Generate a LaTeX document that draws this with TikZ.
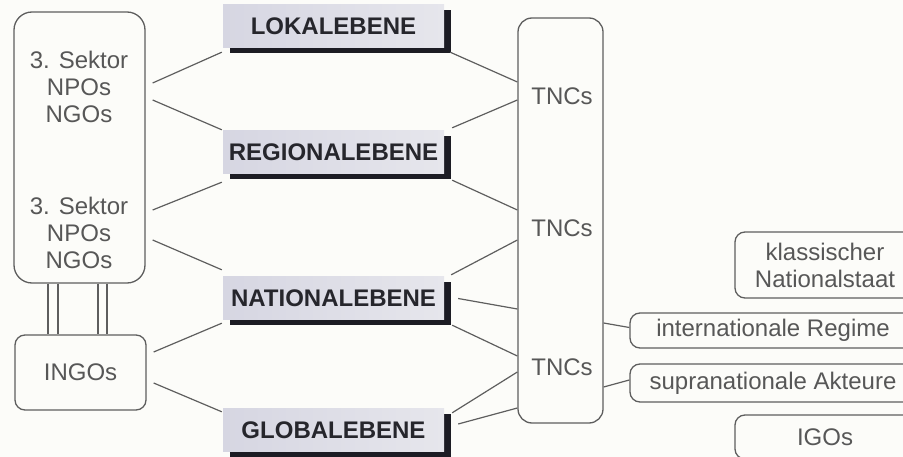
\documentclass[tikz,border=0pt]{standalone}
\usepackage{fontspec}
\setmainfont{Liberation Sans}
\usetikzlibrary{calc,shadows}
\definecolor{bgc}{HTML}{FCFCF9}
\definecolor{txtc}{HTML}{575757}
\definecolor{linec}{HTML}{5E5E5E}
\definecolor{levelleft}{HTML}{D6D6E2}
\definecolor{levelright}{HTML}{E6E6EC}
\definecolor{shadowc}{HTML}{1C1C24}
\definecolor{leveltxt}{HTML}{26262C}
\begin{document}
\begin{tikzpicture}[x=1pt,y=-1pt,
  box/.style={draw=linec, line width=1.3pt, rounded corners=#1, inner sep=0pt},
  box/.default=10pt,
  lbl/.style={text=txtc, font=\fontsize{24}{27}\selectfont, align=center, inner sep=0pt},
  level/.style={left color=levelleft, right color=levelright,
     minimum width=221pt, minimum height=43pt, inner sep=0pt,
     font=\bfseries\fontsize{24}{27}\selectfont, text=leveltxt,
     drop shadow={fill=shadowc, opacity=1, shadow xshift=7pt, shadow yshift=-5pt}},
  link/.style={draw=linec, line width=1.2pt},
]
\useasboundingbox (0,0) rectangle (903,457);
\fill[bgc] (0,0) rectangle (903,457);
\clip (0,0) rectangle (903,457);

% left column: third sector and INGOs
\node[box=18pt, minimum width=131pt, minimum height=271pt] (sektor) at (79.5,147.5) {};
\node[lbl] (sek1) at (79,87) {3. Sektor\\NPOs\\NGOs};
\node[lbl] (sek2) at (79,233) {3. Sektor\\NPOs\\NGOs};
\node[box, minimum width=131pt, minimum height=75pt, lbl] (ingos) at (80.5,372.5) {INGOs};
\foreach \dx in {-31.5,-21.5,18.5,27.5}
  \draw[link] ($(sektor.south)+(\dx,0)$) coordinate (p) -- (p |- ingos.north);

% levels
\node[level] (lok)  at (333.5,26.5)  {LOKALEBENE};
\node[level] (reg)  at (333.5,152.5) {REGIONALEBENE};
\node[level] (nat)  at (333.5,298.5) {NATIONALEBENE};
\node[level] (glob) at (333.5,430)   {GLOBALEBENE};

% transnational corporations
\node[box=14pt, minimum width=85pt, minimum height=405pt] (tnc) at (560.5,220.5) {};
\node[lbl] (t1) at (562,96)  {TNCs};
\node[lbl] (t2) at (562,228) {TNCs};
\node[lbl] (t3) at (562,367) {TNCs};

% state-related actors
\node[box, lbl, minimum width=180pt, minimum height=66pt] (klass) at (825,265) {klassischer\\Nationalstaat};
\node[box, lbl, minimum width=286pt, minimum height=35pt] (intl)  at (773,330.5) {internationale Regime};
\node[box, lbl, minimum width=286pt, minimum height=38pt] (supra) at (773,383)   {supranationale Akteure};
\node[box, lbl, minimum width=180pt, minimum height=44pt] (igos)  at (825,437)   {IGOs};

% connectors on the left
\draw[link] ($(sektor.east)+(7,-64.5)$) -- ($(lok.south west)+(-1,4)$);
\draw[link] ($(sektor.east)+(7,-47.5)$) -- ($(reg.north west)+(-1,-1)$);
\draw[link] ($(sektor.east)+(7,62.5)$)  -- ($(reg.south west)+(-1,8)$);
\draw[link] ($(sektor.east)+(7,92.5)$)  -- ($(nat.north west)+(-1,-7)$);
\draw[link] ($(ingos.east)+(7,-20.5)$)  -- ($(nat.south west)+(-1,3)$);
\draw[link] ($(ingos.east)+(7,10.5)$)   -- ($(glob.north west)+(-1,3.5)$);

% connectors on the right
\draw[link] ($(lok.south east)+(6,4)$)   -- ($(tnc.west)+(0,-138.5)$);
\draw[link] ($(reg.north east)+(8,-3)$)  -- ($(tnc.west)+(0,-120.5)$);
\draw[link] ($(reg.south east)+(8,6)$)   -- ($(tnc.west)+(0,-10.5)$);
\draw[link] ($(nat.north east)+(7,-2)$)  -- ($(tnc.west)+(0,19.5)$);
\draw[link] ($(nat.east)+(14,0)$)        -- ($(tnc.west)+(0,88.5)$);
\draw[link] ($(nat.south east)+(8,5)$)   -- ($(tnc.west)+(0,135.5)$);
\draw[link] ($(glob.north east)+(8,4.5)$) -- ($(tnc.west)+(0,151.5)$);
\draw[link] ($(glob.east)+(14,-6)$)      -- ($(tnc.west)+(0,187.5)$);

\draw[link] ($(tnc.east)+(0,102.5)$) -- ($(intl.west)+(0,-3)$);
\draw[link] ($(tnc.east)+(0,166.5)$) -- ($(supra.west)+(0,-3)$);
\end{tikzpicture}
\end{document}
